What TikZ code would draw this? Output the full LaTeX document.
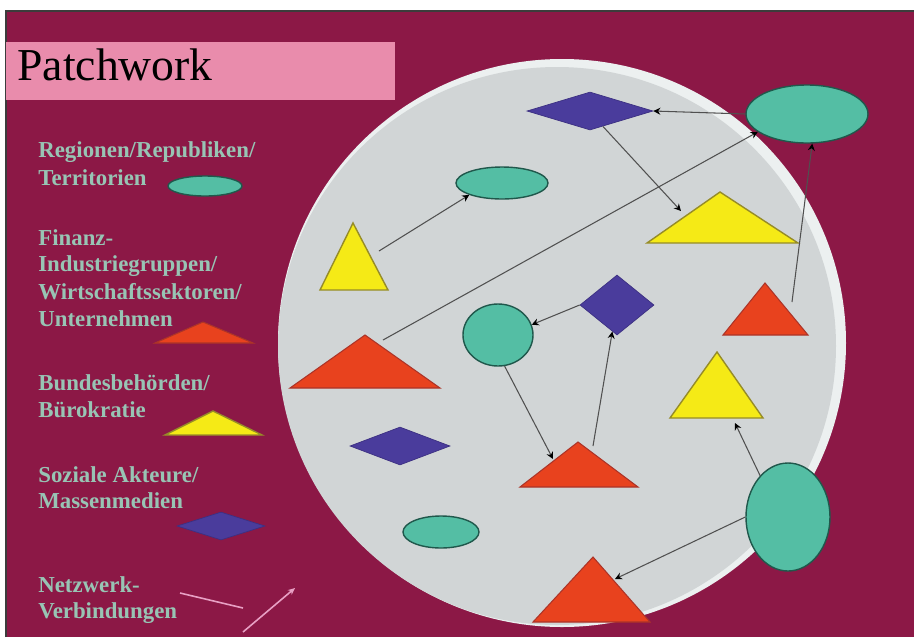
\documentclass[tikz,border=0pt]{standalone}
\usepackage{fontspec}
\setmainfont{Liberation Serif}
\usetikzlibrary{shapes.geometric,arrows.meta}
\definecolor{maroonbg}{RGB}{140,24,70}
\definecolor{framec}{RGB}{60,60,60}
\definecolor{titlepink}{RGB}{233,140,172}
\definecolor{plate}{RGB}{209,213,214}
\definecolor{platerim}{RGB}{236,240,240}
\definecolor{tealF}{RGB}{84,190,164}
\definecolor{tealD}{RGB}{32,88,76}
\definecolor{yelF}{RGB}{245,234,22}
\definecolor{yelD}{RGB}{150,140,40}
\definecolor{redF}{RGB}{232,66,30}
\definecolor{redD}{RGB}{172,52,40}
\definecolor{bluF}{RGB}{74,60,156}
\definecolor{bluD}{RGB}{60,48,130}
\definecolor{legtext}{RGB}{152,196,180}
\definecolor{connc}{RGB}{80,80,80}
\definecolor{legpink}{RGB}{232,160,196}
\newcommand\pxu[1]{#1*0.02cm}
\tikzset{
  tealnode/.style={ellipse, fill=tealF, draw=tealD, line width=0.8pt, inner sep=0pt},
  bluenode/.style={diamond, fill=bluF, draw=bluD, line width=0.4pt, inner sep=0pt},
  yeltri/.style={fill=yelF, draw=yelD, line width=0.8pt, line join=miter},
  redtri/.style={fill=redF, draw=redD, line width=0.6pt, line join=miter},
  conn/.style={draw=connc, line width=0.6pt, -{Stealth[length=4pt,width=4pt,color=black]}},
  legend/.style={anchor=base west, inner sep=0pt, text=legtext, font=\fontsize{13}{15}\selectfont\bfseries},
  legline/.style={draw=legpink, line width=0.9pt}
}
\begin{document}
\begin{tikzpicture}[x=0.02cm,y=-0.02cm]
\useasboundingbox (0,0) rectangle (914,637);
\fill[white] (0,0) rectangle (914,637);
\fill[maroonbg] (6,11) rectangle (914,637);
\draw[framec, line width=0.9pt] (6,637) -- (6,11) -- (914,11);
% title
\fill[titlepink] (6,42) rectangle (395,100);
\node[anchor=base west, inner sep=0pt, font=\fontsize{26}{30}\selectfont] (title) at (17,80) {Patchwork};
% plate
\fill[platerim] (562,343) circle[radius=284];
\fill[plate] (557,346) circle[radius=279];
% legend texts
\node[legend] (l1a) at (38,157) {Regionen/Republiken/};
\node[legend] (l1b) at (38,185) {Territorien};
\node[legend] (l2a) at (38,245) {Finanz-};
\node[legend] (l2b) at (38,271) {Industriegruppen/};
\node[legend] (l2c) at (38,299) {Wirtschaftssektoren/};
\node[legend] (l2d) at (38,326) {Unternehmen};
\node[legend] (l3a) at (38,390) {Bundesbehörden/};
\node[legend] (l3b) at (38,417) {Bürokratie};
\node[legend] (l4a) at (38,482) {Soziale Akteure/};
\node[legend] (l4b) at (38,508) {Massenmedien};
\node[legend] (l5a) at (38,592) {Netzwerk-};
\node[legend] (l5b) at (38,618) {Verbindungen};
% legend symbols
\node[tealnode, minimum width=\pxu{74}, minimum height=\pxu{20}] (legE) at (205,186) {};
\path[redtri] (155,343) -- (203,322) -- (253,343) -- cycle;
\path[yeltri] (165,435) -- (213,411) -- (262,435) -- cycle;
\node[bluenode, minimum width=\pxu{88}, minimum height=\pxu{28}] (legD) at (221,526) {};
\coordinate (lp1) at (180,593);
\coordinate (lp2) at (243,608);
\coordinate (lp3) at (243,632);
\coordinate (lp4) at (295,588);
\draw[legline] (lp1) -- (lp2);
\draw[legline, -{Stealth[length=4pt,width=3.5pt]}] (lp3) -- (lp4);
% shapes on the plate
\node[tealnode, minimum width=\pxu{122}, minimum height=\pxu{58}] (eTR) at (807,114) {};
\node[tealnode, minimum width=\pxu{92}, minimum height=\pxu{32}] (eMid) at (502,183) {};
\node[tealnode, minimum width=\pxu{70}, minimum height=\pxu{62}] (cMid) at (498,335) {};
\node[tealnode, minimum width=\pxu{76}, minimum height=\pxu{32}] (eLow) at (441,532) {};
\node[tealnode, minimum width=\pxu{84}, minimum height=\pxu{108}] (eBR) at (788,517) {};
\node[bluenode, minimum width=\pxu{126}, minimum height=\pxu{38}] (dTop) at (590,111) {};
\node[bluenode, minimum width=\pxu{74}, minimum height=\pxu{60}] (dMid) at (617,305) {};
\node[bluenode, minimum width=\pxu{100}, minimum height=\pxu{38}] (dLow) at (400,446) {};
\path[yeltri] (320,290) -- (353,223) -- (388,290) -- cycle;
\path[yeltri] (647,243) -- (720,192) -- (798,243) -- cycle;
\path[redtri] (290,388) -- (365,335) -- (440,388) -- cycle;
\path[redtri] (723,335) -- (765,283) -- (808,335) -- cycle;
\path[redtri] (520,487) -- (578,442) -- (638,487) -- cycle;
\path[yeltri] (670,418) -- (717,352) -- (763,418) -- cycle;
\path[redtri] (533,622) -- (593,557) -- (650,622) -- cycle;
% connector end points on triangles
\coordinate (tYLp) at (379,251);
\coordinate (tYRp) at (681,211);
\coordinate (tRLp) at (383,340);
\coordinate (tRRp) at (792,302);
\coordinate (tRMa) at (593,446);
\coordinate (tRMb) at (553,459);
\coordinate (tYR2p) at (735,423);
\coordinate (tRBp) at (615,579);
% connectors
\draw[conn] (eTR.west) -- (dTop.east);
\draw[conn] (dTop.-50) -- (tYRp);
\draw[conn] (tYLp) -- (eMid.200);
\draw[conn] (tRLp) -- (eTR.200);
\draw[conn] (tRRp) -- (eTR.-80);
\draw[conn] (dMid.west) -- (cMid.17);
\draw[conn] (tRMa) -- (dMid.-100);
\draw[conn] (cMid.-78) -- (tRMb);
\draw[conn] (eBR.124) -- (tYR2p);
\draw[conn] (eBR.west) -- (tRBp);
\end{tikzpicture}
\end{document}
